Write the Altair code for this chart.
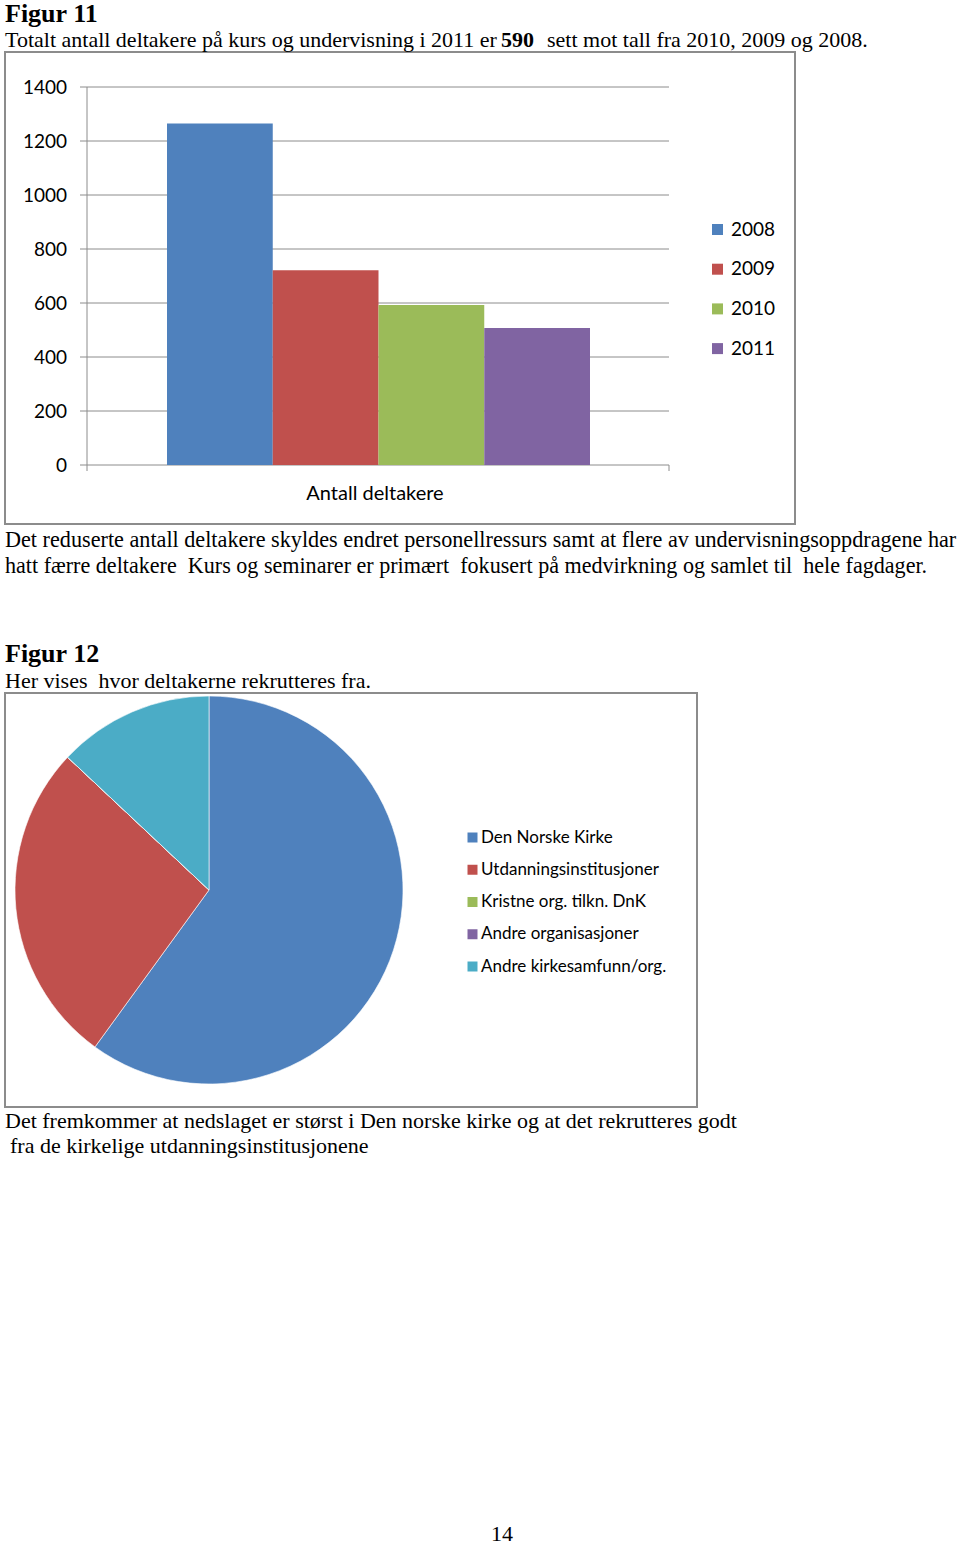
import altair as alt
import pandas as pd

# ---- data ----
years = ["2008", "2009", "2010", "2011"]
deltakere = [1265, 721, 593, 507]
grid_values = [0, 200, 400, 600, 800, 1000, 1200, 1400]
grid_labels = ["0", "200", "400", "600", "800", "1000", "1200", "1400"]

categories = ["Den Norske Kirke", "Utdanningsinstitusjoner", "Kristne org. tilkn. DnK",
              "Andre organisasjoner", "Andre kirkesamfunn/org."]
shares = [60, 27, 0, 0, 13]

bar_colors = ["#4F81BD", "#C0504D", "#9BBB59", "#8064A2"]
pie_colors = ["#4F81BD", "#C0504D", "#9BBB59", "#8064A2", "#4BACC6"]

SERIF = "Liberation Serif"
SANS = "Lato"
FRAME = "#8c8c8c"
NB = "\u00a0"

bars_df = pd.DataFrame({"year": years, "value": deltakere})
grid_df = pd.DataFrame({"value": grid_values, "label": grid_labels})
pie_df = pd.DataFrame({"cat": categories, "share": shares, "order": list(range(len(categories)))})
one = pd.DataFrame({"a": [0]})

y_scale = alt.Scale(domain=[0, 1400], range=[465, 87], nice=False, zero=True)


def txt(s, x, y, size=22, bold=False, font=SERIF, align="left"):
    return alt.Chart(one).mark_text(
        align=align, baseline="alphabetic", font=font, fontSize=size,
        fontWeight="bold" if bold else "normal", color="#000",
    ).encode(x=alt.value(x), y=alt.value(y), text=alt.value(s))


def frame(x1, x2, y1, y2):
    return alt.Chart(one).mark_rect(fill="white", stroke=FRAME, strokeWidth=2).encode(
        x=alt.value(x1), x2=alt.value(x2), y=alt.value(y1), y2=alt.value(y2))


def vline(x, y1, y2):
    return alt.Chart(one).mark_rule(color=FRAME, strokeWidth=1).encode(
        x=alt.value(x), y=alt.value(y1), y2=alt.value(y2))


frames = [frame(5, 795, 52, 524), frame(5, 697, 693, 1107)]

grid = alt.Chart(grid_df).mark_rule(color=FRAME, strokeWidth=1).encode(
    y=alt.Y("value:Q", scale=y_scale, axis=None),
    x=alt.value(80), x2=alt.value(669),
)

tick_labels = alt.Chart(grid_df).mark_text(
    align="right", baseline="middle", font=SANS, fontSize=19, color="#000", dy=1
).encode(
    y=alt.Y("value:Q", scale=y_scale, axis=None),
    x=alt.value(67),
    text="label:N",
)

axis_lines = [vline(87, 87, 471), vline(669, 465, 471)]

bars = alt.Chart(bars_df).mark_bar().encode(
    x=alt.X("year:N", axis=None,
            scale=alt.Scale(range=[167, 590], paddingInner=0, paddingOuter=0)),
    y=alt.Y("value:Q", scale=y_scale, axis=None),
    color=alt.Color("year:N", scale=alt.Scale(domain=years, range=bar_colors),
                    legend=alt.Legend(title=None, orient="none", legendX=708, legendY=220,
                                      symbolType="square", symbolSize=121, symbolStrokeWidth=0,
                                      labelFont=SANS, labelFontSize=19, labelColor="#000",
                                      rowPadding=19.7, labelOffset=4, padding=0)),
)

pie = alt.Chart(pie_df).mark_arc(radius=194, stroke="white", strokeWidth=0.6).encode(
    theta=alt.Theta("share:Q", stack=True),
    order=alt.Order("order:Q"),
    color=alt.Color("cat:N", sort=categories,
                    scale=alt.Scale(domain=categories, range=pie_colors),
                    legend=alt.Legend(title=None, orient="none", legendX=464, legendY=829,
                                      symbolType="square", symbolSize=100, symbolStrokeWidth=0,
                                      labelFont=SANS, labelFontSize=17, labelColor="#000",
                                      rowPadding=14.25, labelOffset=0, padding=0, labelLimit=400)),
    x=alt.value(209), y=alt.value(890),
)

texts = [
    txt("Figur 11", 5, 22, size=26, bold=True),
    txt("Totalt antall deltakere på kurs og undervisning i 2011 er", 5, 47),
    txt("590", 501, 47, bold=True),
    txt("sett mot tall fra 2010, 2009 og 2008.", 547, 47),
    txt("Antall deltakere", 375, 500, size=20, font=SANS, align="center"),
    txt("Det reduserte antall deltakere skyldes endret personellressurs samt at flere av undervisningsoppdragene har", 5, 547, size=22.2),
    txt(f"hatt færre deltakere {NB}Kurs og seminarer er primært {NB}fokusert på medvirkning og samlet til {NB}hele fagdager.", 5, 573, size=22.1),
    txt("Figur 12", 5, 662, size=26, bold=True),
    txt(f"Her vises {NB}hvor deltakerne rekrutteres fra.", 5, 688),
    txt("Det fremkommer at nedslaget er størst i Den norske kirke og at det rekrutteres godt", 5, 1128),
    txt("fra de kirkelige utdanningsinstitusjonene", 10, 1153),
    txt("14", 502, 1541, size=22, align="center"),
]

chart = alt.layer(*frames, grid, *axis_lines, tick_labels, bars, pie, *texts).resolve_scale(
    color="independent"
).properties(
    width=960, height=1545, padding=0, autosize=alt.AutoSizeParams(type="none")
).configure_view(stroke=None)

chart.save("out.html", embed_options={"renderer": "svg", "actions": False})
